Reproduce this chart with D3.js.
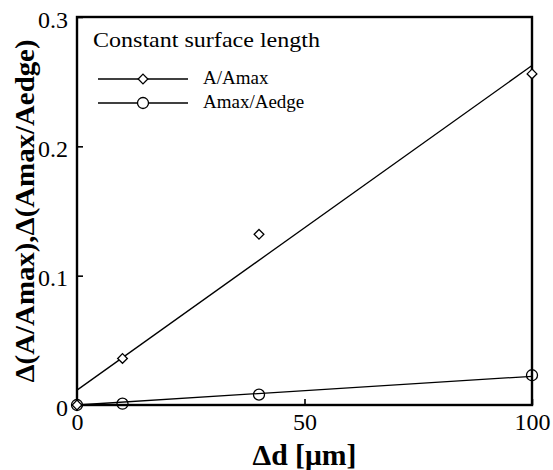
<!DOCTYPE html>
<html>
<head>
<meta charset="utf-8">
<script src="https://cdn.jsdelivr.net/npm/d3@7"></script>
<style>
  body { margin: 0; background: #fff; }
  svg { display: block; }
</style>
</head>
<body>
<div id="chart"></div>
<script>
// measured points
const dValues = [0, 10, 40, 100];
const ratioAmax = [0, 0.036, 0.132, 0.256];
const ratioAedge = [0, 0.001, 0.008, 0.023];
// fitted lines, end points
const fitAmax = [[0, 0.0115], [100, 0.2625]];
const fitAedge = [[0, 0.0], [100, 0.0222]];
const xTicks = [0, 50, 100];
const yTicks = [0, 0.1, 0.2, 0.3];

const FONT = '"Liberation Serif", "Times New Roman", serif';
const width = 553, height = 470;
const margin = {top: 17, right: 21, bottom: 65, left: 77};

const svg = d3.select('#chart').append('svg')
  .attr('width', width)
  .attr('height', height)
  .style('font-family', FONT);

const x = d3.scaleLinear().domain([0, 100]).range([margin.left, width - margin.right]);
const y = d3.scaleLinear().domain([0, 0.3]).range([height - margin.bottom, margin.top]);

// fitted lines
const line = d3.line().x(d => x(d[0])).y(d => y(d[1]));
[fitAmax, fitAedge].forEach(f => {
  svg.append('path').attr('d', line(f))
    .attr('fill', 'none').attr('stroke', '#000').attr('stroke-width', 1.3);
});

// frame
svg.append('rect')
  .attr('x', x(0)).attr('y', y(0.3))
  .attr('width', x(100) - x(0)).attr('height', y(0) - y(0.3))
  .attr('fill', 'none').attr('stroke', '#000').attr('stroke-width', 2.4);

// axes, ticks pointing inwards
const xAxis = svg.append('g')
  .attr('transform', `translate(0,${y(0)})`)
  .call(d3.axisBottom(x).tickValues(xTicks).tickSize(-6).tickPadding(8).tickFormat(d3.format('d')));
const yAxis = svg.append('g')
  .attr('transform', `translate(${x(0)},0)`)
  .call(d3.axisLeft(y).tickValues(yTicks).tickSize(-6).tickPadding(9)
    .tickFormat(d => d === 0 ? '0' : d3.format('.1f')(d)));
[xAxis, yAxis].forEach(g => {
  g.attr('font-family', null);
  g.select('.domain').remove();
  g.selectAll('line').attr('stroke', '#000').attr('stroke-width', 1.6);
  g.selectAll('text').style('font-family', FONT).style('font-size', '24px').attr('fill', '#000');
});
xAxis.selectAll('text').attr('dy', '0.72em');
yAxis.selectAll('text').attr('dy', '0.42em');

// markers
const diamond = d3.symbol().type(d3.symbolDiamond2).size(60);
svg.append('g').selectAll('path')
  .data(dValues.map((d, i) => [d, ratioAmax[i]]))
  .enter().append('path')
  .attr('d', diamond)
  .attr('transform', d => `translate(${x(d[0])},${y(d[1])})`)
  .attr('fill', '#fff').attr('stroke', '#000').attr('stroke-width', 1.3);

svg.append('g').selectAll('circle')
  .data(dValues.map((d, i) => [d, ratioAedge[i]]))
  .enter().append('circle')
  .attr('cx', d => x(d[0])).attr('cy', d => y(d[1])).attr('r', 5.5)
  .attr('fill', 'none').attr('stroke', '#000').attr('stroke-width', 1.3);

// legend
const legend = svg.append('g');
legend.append('text')
  .attr('x', 93).attr('y', 47)
  .style('font-size', '22px')
  .attr('textLength', 227).attr('lengthAdjust', 'spacingAndGlyphs')
  .text('Constant surface length');
const items = [
  {label: 'A/Amax', marker: 'diamond'},
  {label: 'Amax/Aedge', marker: 'circle'}
];
items.forEach((it, i) => {
  const ly = 79 + i * 24;
  legend.append('line')
    .attr('x1', 98).attr('x2', 188).attr('y1', ly).attr('y2', ly)
    .attr('stroke', '#000').attr('stroke-width', 1.3);
  if (it.marker === 'diamond') {
    legend.append('path').attr('d', diamond)
      .attr('transform', `translate(143,${ly})`)
      .attr('fill', '#fff').attr('stroke', '#000').attr('stroke-width', 1.3);
  } else {
    legend.append('circle').attr('cx', 143).attr('cy', ly).attr('r', 5.5)
      .attr('fill', '#fff').attr('stroke', '#000').attr('stroke-width', 1.3);
  }
  legend.append('text')
    .attr('x', 203).attr('y', ly + 5)
    .style('font-size', '19px')
    .text(it.label);
});

// axis titles
svg.append('text')
  .attr('x', x(50)).attr('y', 465)
  .attr('text-anchor', 'middle')
  .style('font-size', '30px').style('font-weight', 'bold')
  .attr('textLength', 104).attr('lengthAdjust', 'spacingAndGlyphs')
  .text('\u0394d [\u03bcm]');

svg.append('text')
  .attr('transform', `translate(34,211) rotate(-90)`)
  .attr('text-anchor', 'middle')
  .style('font-size', '27px').style('font-weight', 'bold')
  .attr('textLength', 343).attr('lengthAdjust', 'spacingAndGlyphs')
  .text('\u0394(A/Amax),\u0394(Amax/Aedge)');
</script>
</body>
</html>
